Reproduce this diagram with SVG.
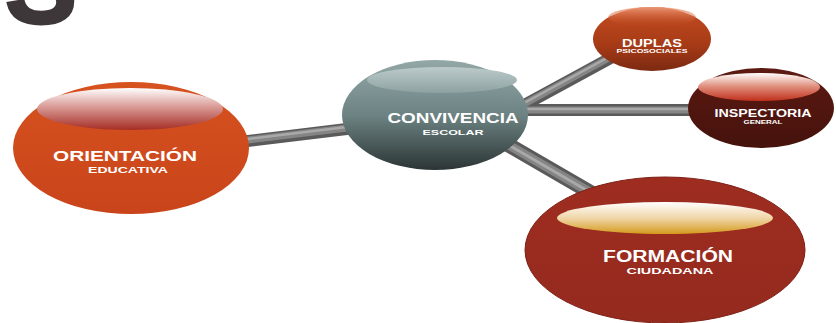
<svg xmlns="http://www.w3.org/2000/svg" width="836" height="323" viewBox="0 0 836 323">
<style>
.t{font-family:"Liberation Sans",Arial,sans-serif;font-weight:bold;fill:#ffffff;text-anchor:middle}
.b1{stroke:#5a5a5a;fill:none}
.b2{stroke:#858585;fill:none}
.b3{stroke:#a9a9a9;fill:none}
</style>
<defs>
<linearGradient id="gOr" x1="0" y1="0" x2="0" y2="1">
<stop offset="0" stop-color="#d6521f"/><stop offset="1" stop-color="#c9441a"/>
</linearGradient>
<linearGradient id="hOr" x1="0" y1="0" x2="0" y2="1">
<stop offset="0" stop-color="#ffffff"/><stop offset="0.45" stop-color="#d99a95"/><stop offset="1" stop-color="#a52d25"/>
</linearGradient>
<linearGradient id="gCe" x1="0" y1="0" x2="0" y2="1">
<stop offset="0" stop-color="#93a7a7"/><stop offset="0.5" stop-color="#6d8383"/><stop offset="1" stop-color="#2c3535"/>
</linearGradient>
<linearGradient id="hCe" x1="0" y1="0" x2="0" y2="1">
<stop offset="0" stop-color="#bccaca"/><stop offset="1" stop-color="#8ea2a2"/>
</linearGradient>
<linearGradient id="gDu" x1="0" y1="0" x2="0" y2="1">
<stop offset="0" stop-color="#c44c20"/><stop offset="0.6" stop-color="#a63a16"/><stop offset="1" stop-color="#7c2a12"/>
</linearGradient>
<linearGradient id="hDu" x1="0" y1="0" x2="0" y2="1">
<stop offset="0" stop-color="#f0a080" stop-opacity="0.9"/><stop offset="1" stop-color="#c44c20" stop-opacity="0"/>
</linearGradient>
<linearGradient id="gIn" x1="0" y1="0" x2="0" y2="1">
<stop offset="0" stop-color="#5c1a12"/><stop offset="1" stop-color="#45120c"/>
</linearGradient>
<linearGradient id="hIn" x1="0" y1="0" x2="0" y2="1">
<stop offset="0" stop-color="#ffffff"/><stop offset="0.5" stop-color="#de8a78"/><stop offset="1" stop-color="#c0301c"/>
</linearGradient>
<linearGradient id="gFo" x1="0" y1="0" x2="0" y2="1">
<stop offset="0" stop-color="#9e2d20"/><stop offset="1" stop-color="#952a1e"/>
</linearGradient>
<linearGradient id="hFo" x1="0" y1="0" x2="0" y2="1">
<stop offset="0" stop-color="#ffffff"/><stop offset="0.5" stop-color="#f0d6a8"/><stop offset="1" stop-color="#d49a1c"/>
</linearGradient>
</defs>

<text x="5" y="23" font-family="'Liberation Sans',Arial,sans-serif" font-weight="bold" font-size="110" fill="#3e3739" stroke="#3e3739" stroke-width="3" textLength="72" lengthAdjust="spacingAndGlyphs">S</text>

<g id="connectors">
<g class="b1" stroke-width="12">
<line x1="240" y1="142" x2="355" y2="128"/>
<line x1="515" y1="110" x2="618" y2="54"/>
<line x1="520" y1="110" x2="700" y2="110"/>
<line x1="500" y1="140" x2="600" y2="198" stroke-width="15"/>
</g>
<g class="b2" stroke-width="7">
<line x1="240" y1="141" x2="355" y2="127"/>
<line x1="515" y1="109" x2="618" y2="53"/>
<line x1="520" y1="110" x2="700" y2="110"/>
<line x1="500" y1="140" x2="600" y2="198" stroke-width="9"/>
</g>
<g class="b3" stroke-width="2.5">
<line x1="240" y1="140" x2="355" y2="126"/>
<line x1="515" y1="108" x2="618" y2="52"/>
<line x1="520" y1="109" x2="700" y2="109"/>
<line x1="500" y1="140" x2="600" y2="198" stroke-width="3"/>
</g>
</g>

<g id="orientacion">
<ellipse cx="131" cy="148" rx="118" ry="66" fill="url(#gOr)"/>
<ellipse cx="130" cy="109" rx="93" ry="21" fill="url(#hOr)"/>
<text class="t" x="125" y="161" font-size="14" textLength="144" lengthAdjust="spacingAndGlyphs">ORIENTACIÓN</text>
<text class="t" x="128" y="173" font-size="8.5" textLength="80" lengthAdjust="spacingAndGlyphs">EDUCATIVA</text>
</g>

<g id="convivencia">
<ellipse cx="435" cy="115" rx="93" ry="55" fill="url(#gCe)"/>
<ellipse cx="442" cy="80" rx="75" ry="13" fill="url(#hCe)"/>
<text class="t" x="453" y="123" font-size="14" textLength="131" lengthAdjust="spacingAndGlyphs">CONVIVENCIA</text>
<text class="t" x="453" y="135" font-size="8" textLength="61" lengthAdjust="spacingAndGlyphs">ESCOLAR</text>
</g>

<g id="duplas">
<ellipse cx="652" cy="39" rx="59" ry="32" fill="url(#gDu)"/>
<ellipse cx="652" cy="17" rx="44" ry="10" fill="url(#hDu)"/>
<text class="t" x="652" y="47" font-size="10" textLength="60" lengthAdjust="spacingAndGlyphs">DUPLAS</text>
<text class="t" x="652" y="53" font-size="5" textLength="71" lengthAdjust="spacingAndGlyphs">PSICOSOCIALES</text>
</g>

<g id="inspectoria">
<ellipse cx="761" cy="108" rx="73" ry="40" fill="url(#gIn)"/>
<ellipse cx="759" cy="87" rx="61" ry="14" fill="url(#hIn)"/>
<text class="t" x="763" y="117" font-size="10" textLength="97" lengthAdjust="spacingAndGlyphs">INSPECTORIA</text>
<text class="t" x="763" y="124" font-size="5" textLength="39" lengthAdjust="spacingAndGlyphs">GENERAL</text>
</g>

<g id="formacion">
<ellipse cx="665" cy="250" rx="140" ry="73" fill="url(#gFo)" stroke="#7e2016" stroke-width="1"/>
<ellipse cx="665" cy="218" rx="108" ry="16" fill="url(#hFo)"/>
<text class="t" x="668" y="262" font-size="16" textLength="130" lengthAdjust="spacingAndGlyphs">FORMACIÓN</text>
<text class="t" x="670" y="274" font-size="9" textLength="87" lengthAdjust="spacingAndGlyphs">CIUDADANA</text>
</g>
</svg>
